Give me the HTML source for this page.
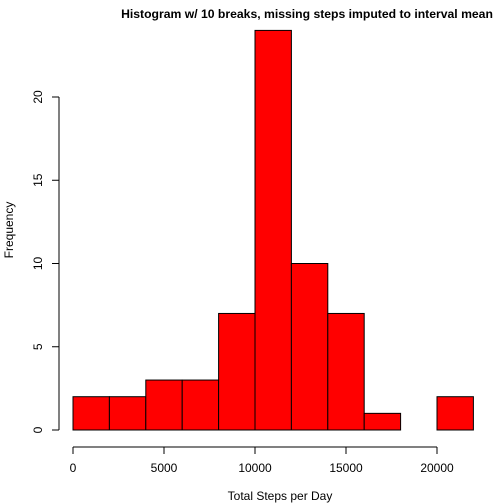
<!DOCTYPE html>
<html><head><meta charset="utf-8"><style>body{margin:0;background:#fff}svg{display:block;font-family:"Liberation Sans",Arial,sans-serif}</style></head>
<body>
<svg id="c" width="504" height="504">
<text x="307" y="18" text-anchor="middle" font-size="12.2" font-weight="bold">Histogram w/ 10 breaks, missing steps imputed to interval mean</text>
<text x="280" y="500" text-anchor="middle" font-size="12">Total Steps per Day</text>
<text transform="translate(13,230) rotate(-90)" text-anchor="middle" font-size="12">Frequency</text>
<g id="bars"></g><g id="xa"></g><g id="ya"></g>
</svg>
<script>
const breaks=[0,2000,4000,6000,8000,10000,12000,14000,16000,18000,20000,22000];
const counts=[2,2,3,3,7,24,10,7,1,0,2];
const xTicks=[0,5000,10000,15000,20000];
const yTicks=[0,5,10,15,20];
const NS="http://www.w3.org/2000/svg";
const sx=v=>73+v*(437-73)/20000;
const sy=v=>430-v*(430-97)/20;
function mk(t,a,p){const e=document.createElementNS(NS,t);for(const k in a)e.setAttribute(k,a[k]);p.appendChild(e);return e;}
const bars=document.getElementById('bars');
counts.forEach((c,i)=>{
  const r=mk('rect',{x:sx(breaks[i]),y:sy(c),width:sx(breaks[i+1])-sx(breaks[i]),height:sy(0)-sy(c),fill:c>0?'#ff0000':'none',stroke:'#000','stroke-width':1},bars);
  
  
});
const xa=document.getElementById('xa');
const xl=mk('line',{x1:sx(0),x2:sx(20000),y1:447,y2:447,stroke:'#000'},xa);


xTicks.forEach(v=>{
  mk('line',{x1:sx(v),x2:sx(v),y1:447,y2:454,stroke:'#000'},xa);
  const t=mk('text',{x:sx(v),y:472,'text-anchor':'middle','font-size':12},xa);t.textContent=v;
  
  
});
const ya=document.getElementById('ya');
const yl=mk('line',{x1:59,x2:59,y1:sy(0),y2:sy(20),stroke:'#000'},ya);


yTicks.forEach(v=>{
  mk('line',{x1:52,x2:59,y1:sy(v),y2:sy(v),stroke:'#000'},ya);
  const t=mk('text',{transform:`translate(42,${sy(v)}) rotate(-90)`,'text-anchor':'middle','font-size':12},ya);t.textContent=v;
  
  
});
</script>
</body></html>
